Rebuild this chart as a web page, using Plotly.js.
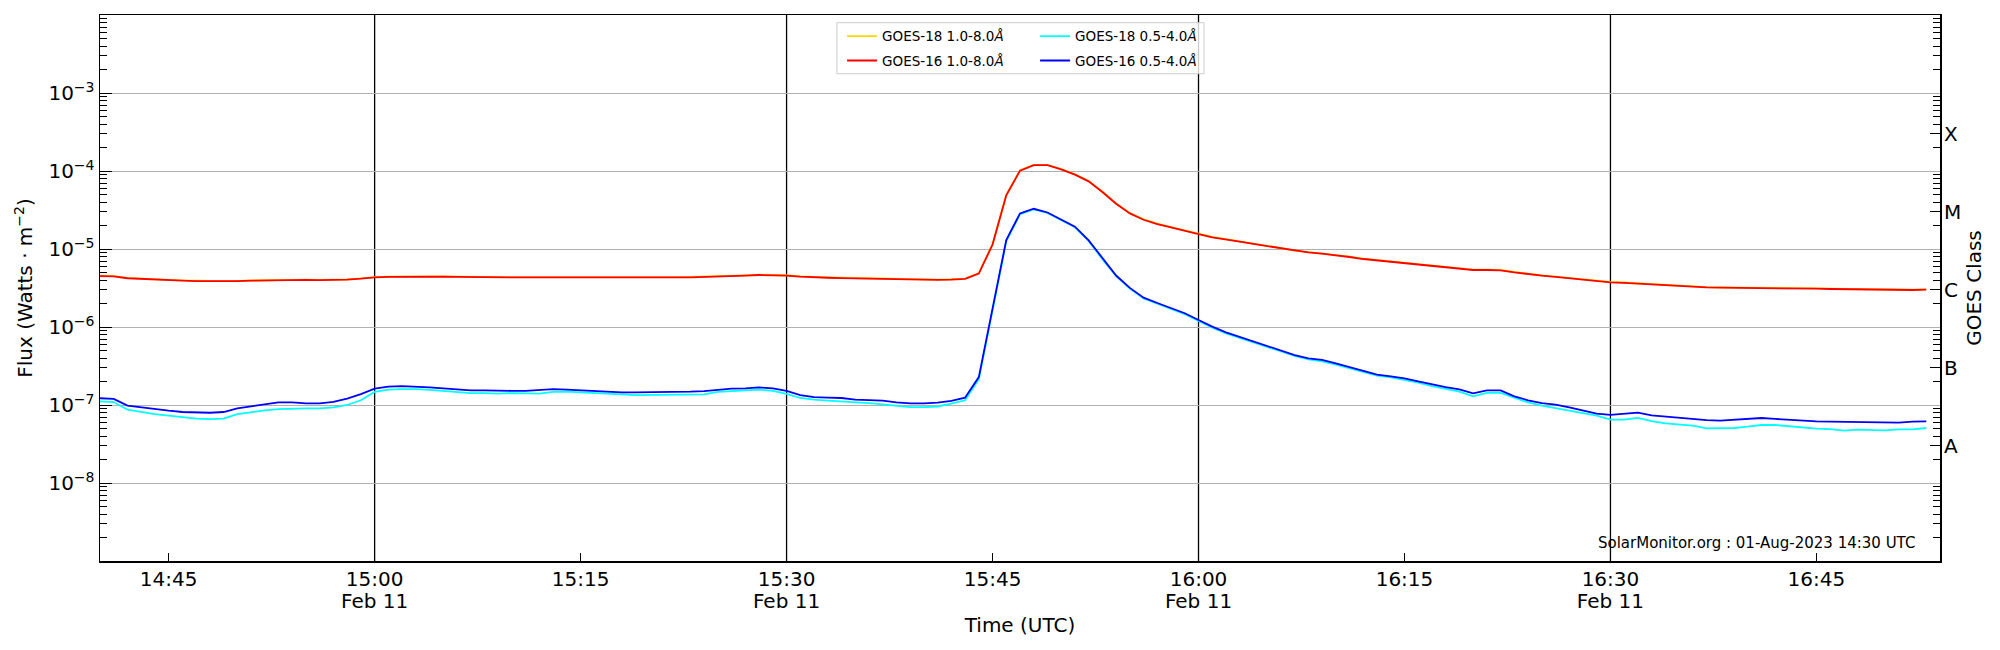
<!DOCTYPE html>
<html>
<head>
<meta charset="utf-8">
<title>GOES X-ray flux 11 Feb</title>
<script src="https://cdn.plot.ly/plotly-3.0.1.min.js"></script>
<style>
  body { margin: 0; background: #fff; }
  #plot { width: 2000px; height: 650px; }
</style>
</head>
<body>
<div id="plot"></div>
<script>
// one sample per minute, 14:40 .. 16:53 UTC
const startTime = '2023-02-11T14:40:00Z';
const nSamples = 134;

// GOES-16 1.0-8.0 A (red)
const goes16Long = [
  4.50e-6, 4.46e-6, 4.22e-6, 4.12e-6, 4.05e-6, 3.98e-6, 3.92e-6, 3.87e-6, 3.85e-6, 3.85e-6,
  3.88e-6, 3.92e-6, 3.96e-6, 4.02e-6, 4.04e-6, 4.02e-6, 4.00e-6, 3.99e-6, 4.04e-6, 4.16e-6,
  4.33e-6, 4.38e-6, 4.41e-6, 4.42e-6, 4.42e-6, 4.41e-6, 4.38e-6, 4.35e-6, 4.34e-6, 4.33e-6,
  4.33e-6, 4.33e-6, 4.33e-6, 4.33e-6, 4.32e-6, 4.31e-6, 4.29e-6, 4.27e-6, 4.24e-6, 4.26e-6,
  4.29e-6, 4.30e-6, 4.32e-6, 4.34e-6, 4.37e-6, 4.42e-6, 4.50e-6, 4.56e-6, 4.64e-6, 4.64e-6,
  4.57e-6, 4.43e-6, 4.33e-6, 4.28e-6, 4.24e-6, 4.20e-6, 4.15e-6, 4.10e-6, 4.05e-6, 4.03e-6,
  4.02e-6, 4.02e-6, 4.06e-6, 4.14e-6, 4.84e-6, 1.14e-5, 4.87e-5, 1.01e-4, 1.19e-4, 1.19e-4,
  1.05e-4, 8.97e-5, 7.37e-5, 5.37e-5, 3.80e-5, 2.86e-5, 2.37e-5, 2.09e-5, 1.89e-5, 1.73e-5,
  1.55e-5, 1.41e-5, 1.31e-5, 1.24e-5, 1.16e-5, 1.09e-5, 1.01e-5, 9.47e-6, 9.05e-6, 8.70e-6,
  8.38e-6, 7.90e-6, 7.44e-6, 7.15e-6, 6.89e-6, 6.62e-6, 6.36e-6, 6.10e-6, 5.88e-6, 5.62e-6,
  5.38e-6, 5.38e-6, 5.33e-6, 5.02e-6, 4.73e-6, 4.55e-6, 4.38e-6, 4.21e-6, 4.05e-6, 3.88e-6,
  3.74e-6, 3.68e-6, 3.59e-6, 3.52e-6, 3.45e-6, 3.35e-6, 3.26e-6, 3.22e-6, 3.19e-6, 3.18e-6,
  3.19e-6, 3.19e-6, 3.19e-6, 3.16e-6, 3.13e-6, 3.10e-6, 3.07e-6, 3.05e-6, 3.04e-6, 3.02e-6,
  3.01e-6, 3.00e-6, 2.98e-6, 3.01e-6
];

// GOES-18 1.0-8.0 A (gold, mostly under the red one)
const goes18Long = [
  4.55e-6, 4.50e-6, 4.26e-6, 4.15e-6, 4.08e-6, 4.01e-6, 3.95e-6, 3.90e-6, 3.88e-6, 3.88e-6,
  3.91e-6, 3.95e-6, 3.99e-6, 4.05e-6, 4.07e-6, 4.05e-6, 4.03e-6, 4.02e-6, 4.07e-6, 4.19e-6,
  4.36e-6, 4.42e-6, 4.45e-6, 4.46e-6, 4.46e-6, 4.45e-6, 4.42e-6, 4.39e-6, 4.38e-6, 4.37e-6,
  4.37e-6, 4.37e-6, 4.37e-6, 4.37e-6, 4.36e-6, 4.35e-6, 4.33e-6, 4.31e-6, 4.28e-6, 4.30e-6,
  4.33e-6, 4.34e-6, 4.36e-6, 4.38e-6, 4.41e-6, 4.46e-6, 4.54e-6, 4.60e-6, 4.68e-6, 4.68e-6,
  4.61e-6, 4.47e-6, 4.37e-6, 4.32e-6, 4.28e-6, 4.24e-6, 4.19e-6, 4.14e-6, 4.09e-6, 4.07e-6,
  4.06e-6, 4.06e-6, 4.10e-6, 4.18e-6, 4.90e-6, 1.15e-5, 4.90e-5, 1.02e-4, 1.20e-4, 1.20e-4,
  1.06e-4, 9.05e-5, 7.43e-5, 5.42e-5, 3.84e-5, 2.89e-5, 2.40e-5, 2.11e-5, 1.91e-5, 1.75e-5,
  1.57e-5, 1.43e-5, 1.33e-5, 1.25e-5, 1.17e-5, 1.10e-5, 1.02e-5, 9.56e-6, 9.14e-6, 8.79e-6,
  8.46e-6, 7.98e-6, 7.51e-6, 7.22e-6, 6.96e-6, 6.69e-6, 6.42e-6, 6.16e-6, 5.94e-6, 5.68e-6,
  5.43e-6, 5.43e-6, 5.38e-6, 5.07e-6, 4.78e-6, 4.60e-6, 4.42e-6, 4.25e-6, 4.09e-6, 3.92e-6,
  3.78e-6, 3.72e-6, 3.63e-6, 3.56e-6, 3.49e-6, 3.38e-6, 3.29e-6, 3.25e-6, 3.22e-6, 3.21e-6,
  3.22e-6, 3.22e-6, 3.22e-6, 3.19e-6, 3.16e-6, 3.13e-6, 3.10e-6, 3.08e-6, 3.07e-6, 3.05e-6,
  3.04e-6, 3.03e-6, 3.01e-6, 3.04e-6
];

// GOES-18 0.5-4.0 A (cyan)
const goes18Short = [
  1.11e-7, 1.09e-7, 8.70e-8, 8.13e-8, 7.66e-8, 7.29e-8, 6.94e-8, 6.67e-8, 6.60e-8, 6.67e-8,
  7.66e-8, 8.13e-8, 8.53e-8, 8.87e-8, 9.06e-8, 9.06e-8, 9.06e-8, 9.33e-8, 1.00e-7, 1.15e-7,
  1.47e-7, 1.57e-7, 1.60e-7, 1.60e-7, 1.56e-7, 1.51e-7, 1.48e-7, 1.42e-7, 1.42e-7, 1.40e-7,
  1.42e-7, 1.40e-7, 1.40e-7, 1.47e-7, 1.48e-7, 1.45e-7, 1.43e-7, 1.40e-7, 1.37e-7, 1.34e-7,
  1.34e-7, 1.34e-7, 1.35e-7, 1.37e-7, 1.37e-7, 1.47e-7, 1.51e-7, 1.52e-7, 1.57e-7, 1.52e-7,
  1.39e-7, 1.23e-7, 1.17e-7, 1.14e-7, 1.12e-7, 1.08e-7, 1.06e-7, 1.02e-7, 9.80e-8, 9.40e-8,
  9.37e-8, 9.57e-8, 1.04e-7, 1.15e-7, 2.15e-7, 1.60e-6, 1.26e-5, 2.80e-5, 3.22e-5, 2.90e-5,
  2.35e-5, 1.90e-5, 1.27e-5, 7.40e-6, 4.48e-6, 3.10e-6, 2.32e-6, 1.98e-6, 1.70e-6, 1.46e-6,
  1.20e-6, 9.80e-7, 8.30e-7, 7.25e-7, 6.30e-7, 5.50e-7, 4.78e-7, 4.25e-7, 3.85e-7, 3.63e-7,
  3.29e-7, 2.95e-7, 2.62e-7, 2.38e-7, 2.26e-7, 2.11e-7, 1.93e-7, 1.75e-7, 1.60e-7, 1.48e-7,
  1.29e-7, 1.43e-7, 1.43e-7, 1.23e-7, 1.08e-7, 9.80e-8, 9.06e-8, 8.55e-8, 7.89e-8, 7.29e-8,
  6.48e-8, 6.48e-8, 6.85e-8, 6.20e-8, 5.80e-8, 5.60e-8, 5.45e-8, 5.02e-8, 5.07e-8, 5.07e-8,
  5.27e-8, 5.54e-8, 5.54e-8, 5.32e-8, 5.17e-8, 4.98e-8, 4.92e-8, 4.69e-8, 4.83e-8, 4.73e-8,
  4.73e-8, 4.88e-8, 4.88e-8, 5.07e-8
];

// GOES-16 0.5-4.0 A (blue)
const goes16Short = [
  1.22e-7, 1.20e-7, 9.80e-8, 9.33e-8, 8.70e-8, 8.45e-8, 8.13e-8, 8.05e-8, 7.96e-8, 8.13e-8,
  9.06e-8, 9.60e-8, 1.02e-7, 1.08e-7, 1.08e-7, 1.05e-7, 1.05e-7, 1.10e-7, 1.21e-7, 1.38e-7,
  1.62e-7, 1.72e-7, 1.75e-7, 1.73e-7, 1.68e-7, 1.63e-7, 1.57e-7, 1.54e-7, 1.54e-7, 1.52e-7,
  1.52e-7, 1.52e-7, 1.55e-7, 1.60e-7, 1.57e-7, 1.54e-7, 1.50e-7, 1.47e-7, 1.45e-7, 1.45e-7,
  1.45e-7, 1.47e-7, 1.48e-7, 1.48e-7, 1.51e-7, 1.58e-7, 1.62e-7, 1.63e-7, 1.68e-7, 1.63e-7,
  1.52e-7, 1.34e-7, 1.26e-7, 1.24e-7, 1.23e-7, 1.17e-7, 1.16e-7, 1.14e-7, 1.08e-7, 1.05e-7,
  1.05e-7, 1.07e-7, 1.13e-7, 1.24e-7, 2.28e-7, 1.67e-6, 1.30e-5, 2.86e-5, 3.28e-5, 2.94e-5,
  2.39e-5, 1.93e-5, 1.29e-5, 7.55e-6, 4.57e-6, 3.17e-6, 2.38e-6, 2.03e-6, 1.75e-6, 1.50e-6,
  1.23e-6, 1.01e-6, 8.53e-7, 7.44e-7, 6.48e-7, 5.65e-7, 4.92e-7, 4.37e-7, 3.95e-7, 3.78e-7,
  3.42e-7, 3.07e-7, 2.73e-7, 2.45e-7, 2.33e-7, 2.20e-7, 2.01e-7, 1.84e-7, 1.70e-7, 1.59e-7,
  1.41e-7, 1.54e-7, 1.54e-7, 1.29e-7, 1.15e-7, 1.06e-7, 1.01e-7, 9.33e-8, 8.55e-8, 7.74e-8,
  7.45e-8, 7.67e-8, 8.00e-8, 7.38e-8, 7.10e-8, 6.85e-8, 6.50e-8, 6.38e-8, 6.32e-8, 6.49e-8,
  6.75e-8, 6.81e-8, 6.62e-8, 6.42e-8, 6.23e-8, 6.17e-8, 6.11e-8, 6.05e-8, 6.05e-8, 6.00e-8,
  5.94e-8, 5.94e-8, 6.11e-8, 6.17e-8
];

const seriesNames = ['GOES-18 1.0-8.0<i>Å</i>', 'GOES-16 1.0-8.0<i>Å</i>',
                     'GOES-18 0.5-4.0<i>Å</i>', 'GOES-16 0.5-4.0<i>Å</i>'];
const seriesColors = ['#ffd700', '#ff0000', '#00ffff', '#0000ff'];

const timeTicks = ['2023-02-11 14:45', '2023-02-11 15:00', '2023-02-11 15:15', '2023-02-11 15:30',
                   '2023-02-11 15:45', '2023-02-11 16:00', '2023-02-11 16:15', '2023-02-11 16:30',
                   '2023-02-11 16:45'];
const timeLabels = ['14:45', '15:00', '15:15', '15:30', '15:45', '16:00', '16:15', '16:30', '16:45'];
const dayLines = ['2023-02-11 15:00', '2023-02-11 15:30', '2023-02-11 16:00', '2023-02-11 16:30'];
const dayLabels = ['Feb 11', 'Feb 11', 'Feb 11', 'Feb 11'];

const fluxTicks = [1e-8, 1e-7, 1e-6, 1e-5, 1e-4, 1e-3];
const fluxLabels = ['10<sup>−8</sup>', '10<sup>−7</sup>', '10<sup>−6</sup>',
                    '10<sup>−5</sup>', '10<sup>−4</sup>', '10<sup>−3</sup>'];
const classTicks = [3e-8, 3e-7, 3e-6, 3e-5, 3e-4];
const classLabels = ['A', 'B', 'C', 'M', 'X'];

// ---- build
var times = [];
var t0 = new Date(startTime).getTime();
for (var i = 0; i < nSamples; i++) {
  times.push(new Date(t0 + i * 60000).toISOString().replace('T', ' ').slice(0, 19));
}

// log minor tick positions 2..9 x 10^n
var minorVals = [];
for (var e = -9; e < -2; e++) {
  for (var k = 2; k <= 9; k++) minorVals.push(k * Math.pow(10, e));
}

var FONT = 'DejaVu Sans, Liberation Sans, sans-serif';
var X_RANGE = ['2023-02-11 14:40:00', '2023-02-11 16:54:00'];
var allSeries = [goes18Long, goes16Long, goes18Short, goes16Short];
var legendIds = ['legend', 'legend2', 'legend3', 'legend4'];

var data = [];
for (var s = 0; s < allSeries.length; s++) {
  data.push({
    x: times, y: allSeries[s], type: 'scatter', mode: 'lines',
    name: seriesNames[s], legend: legendIds[s],
    line: {color: seriesColors[s], width: 1.8},
    hoverinfo: 'x+y'
  });
}
// carriers so the GOES class axis and the date row get drawn
data.push({x: [times[0]], y: [classTicks[0]], yaxis: 'y2', type: 'scatter', mode: 'none',
           showlegend: false, hoverinfo: 'skip'});
data.push({x: [times[0]], y: [classTicks[0]], xaxis: 'x2', type: 'scatter', mode: 'none',
           showlegend: false, hoverinfo: 'skip'});

var shapes = dayLines.map(function (d) {
  return {type: 'line', xref: 'x', yref: 'paper', x0: d, x1: d, y0: 0, y1: 1,
          line: {color: 'black', width: 1.3}, layer: 'below'};
});
// legend frame
shapes.push({type: 'rect', xref: 'paper', yref: 'paper', x0: 0.4005, x1: 0.6, y0: 0.8924, y1: 0.9859,
             line: {color: '#cccccc', width: 1}, fillcolor: 'rgba(255,255,255,0.8)', layer: 'above'});

function legendAt(x, y) {
  return {x: x, y: y, xanchor: 'left', yanchor: 'middle', bgcolor: 'rgba(0,0,0,0)',
          borderwidth: 0, font: {family: FONT, size: 13.5, color: '#000'}};
}

function logAxis(extra) {
  var ax = {
    type: 'log', range: [-9, -2],
    tickmode: 'array',
    ticks: 'inside', tickwidth: 1, tickcolor: '#000',
    minor: {tickmode: 'array', tickvals: minorVals, ticks: 'inside', ticklen: 7,
            tickwidth: 1, tickcolor: '#000', showgrid: false},
    zeroline: false, tickfont: {size: 20}
  };
  for (var key in extra) ax[key] = extra[key];
  return ax;
}

var layout = {
  width: 2000, height: 650,
  margin: {l: 100, r: 60, t: 15, b: 89},
  paper_bgcolor: '#fff', plot_bgcolor: '#fff',
  font: {family: FONT, size: 20, color: '#000'},
  showlegend: true,
  legend: legendAt(0.4033, 0.9608),
  legend2: legendAt(0.4033, 0.9163),
  legend3: legendAt(0.5082, 0.9608),
  legend4: legendAt(0.5082, 0.9163),
  xaxis: {
    type: 'date', range: X_RANGE,
    tickmode: 'array', tickvals: timeTicks, ticktext: timeLabels,
    ticks: 'inside', ticklen: 8, tickwidth: 1, tickcolor: '#000',
    ticklabelstandoff: -1,
    showgrid: false, zeroline: false,
    showline: true, mirror: true, linecolor: '#000', linewidth: 1.5,
    tickfont: {size: 20},
    title: {text: 'Time (UTC)', font: {size: 20}, standoff: 28}
  },
  // second row of date labels under the half-hour ticks
  xaxis2: {
    type: 'date', range: X_RANGE, overlaying: 'x', side: 'bottom', anchor: 'y',
    tickmode: 'array', tickvals: dayLines, ticktext: dayLabels,
    ticks: '', ticklabelstandoff: 26,
    showgrid: false, zeroline: false, showline: false,
    tickfont: {size: 20}
  },
  yaxis: logAxis({
    tickvals: fluxTicks, ticktext: fluxLabels, ticklen: 12,
    showgrid: true, gridcolor: '#b0b0b0', gridwidth: 1,
    showline: true, mirror: true, linecolor: '#000', linewidth: 1.5,
    title: {text: 'Flux (Watts · m<sup>−2</sup>)', font: {size: 20}, standoff: 10}
  }),
  yaxis2: logAxis({
    overlaying: 'y', side: 'right', anchor: 'x',
    tickvals: classTicks, ticktext: classLabels, ticklen: 10,
    ticklabelstandoff: 3,
    showgrid: false, showline: false,
    title: {text: 'GOES Class', font: {size: 20}, standoff: 6}
  }),
  shapes: shapes,
  annotations: [{
    xref: 'paper', yref: 'paper', x: 0.9875, y: 0.033, xanchor: 'right', yanchor: 'middle',
    text: 'SolarMonitor.org : 01-Aug-2023 14:30 UTC', showarrow: false,
    font: {family: FONT, size: 15, color: '#000'}
  }]
};

Plotly.newPlot('plot', data, layout, {staticPlot: true, displayModeBar: false});
</script>
</body>
</html>
